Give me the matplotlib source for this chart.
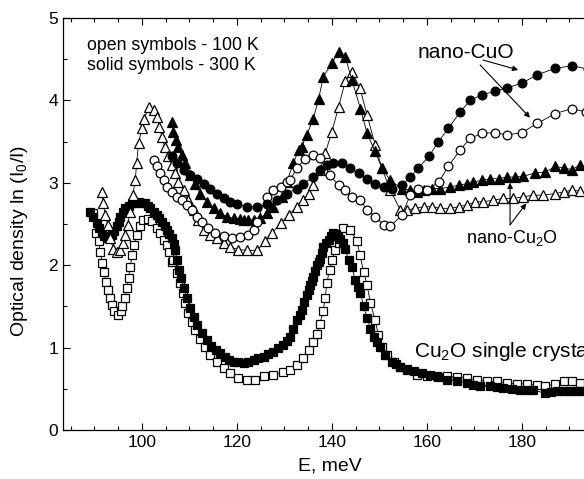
import numpy as np
import matplotlib
matplotlib.use('Agg')
from matplotlib import pyplot as plt

plt.rcParams['font.family'] = ['Liberation Sans', 'DejaVu Sans']
plt.rcParams['mathtext.fontset'] = 'custom'
plt.rcParams['mathtext.rm'] = 'Liberation Sans'
plt.rcParams['mathtext.it'] = 'Liberation Sans:italic'

# Cu2O single crystal, 100 K (open squares)
E_XTAL_100 = [89.7, 90.4, 90.9, 91.2, 91.7, 92.1, 92.4, 92.8, 93.3, 93.7, 94.2, 94.9, 95.6, 95.8,
              96.5, 96.8, 97.2, 97.5, 98.0, 98.4, 98.9, 99.6, 100.3, 101.2, 102.1, 103.2, 103.9,
              104.7, 105.3, 105.7, 106.3, 106.6, 107.4, 108.1, 108.6, 109.1, 109.8, 110.5, 111.2,
              112.3, 113.3, 114.4, 115.8, 117.2, 118.6, 120.3, 122.1, 123.9, 125.6, 127.7, 129.8,
              131.2, 132.6, 134.0, 135.1, 136.1, 136.8, 137.5, 138.1, 138.6, 138.9, 139.5, 140.0,
              140.7, 141.4, 142.4, 143.9, 145.3, 145.9, 146.7, 147.4, 148.1, 149.1, 149.8, 150.5,
              151.6, 153.0, 154.4, 155.8, 157.9, 160.0, 162.1, 164.2, 166.3, 168.4, 170.5, 172.6,
              174.7, 176.8, 178.9, 181.1, 183.2, 184.9, 187.0, 188.8, 190.5, 192.3]
OD_XTAL_100 = [2.63, 2.39, 2.29, 2.16, 2.03, 1.92, 1.80, 1.70, 1.60, 1.52, 1.44, 1.40, 1.44, 1.50,
               1.60, 1.72, 1.84, 1.98, 2.12, 2.25, 2.37, 2.47, 2.55, 2.56, 2.54, 2.45, 2.39,
               2.31, 2.25, 2.16, 2.04, 2.06, 1.90, 1.78, 1.66, 1.54, 1.42, 1.31, 1.21,
               1.11, 1.01, 0.91, 0.83, 0.75, 0.69, 0.63, 0.61, 0.61, 0.65, 0.67, 0.70,
               0.73, 0.79, 0.87, 0.97, 1.07, 1.17, 1.29, 1.44, 1.60, 1.78, 1.94, 2.06,
               2.18, 2.27, 2.45, 2.43, 2.29, 2.12, 1.92, 1.76, 1.54, 1.33, 1.15, 1.01,
               0.91, 0.83, 0.77, 0.73, 0.67, 0.66, 0.66, 0.65, 0.64, 0.63, 0.61, 0.59,
               0.59, 0.57, 0.56, 0.56, 0.55, 0.53, 0.56, 0.59, 0.59, 0.57]

# Cu2O single crystal, 300 K (solid squares)
E_XTAL_300 = [89.1, 89.8, 90.5, 91.0, 91.6, 92.1, 92.6, 93.2, 93.7, 94.2, 94.7, 95.1, 95.4, 96.0,
              96.5, 97.2, 97.9, 98.6, 99.3, 100.0, 100.7, 101.2, 101.7, 102.5, 103.2, 103.7, 104.2,
              104.8, 105.3, 105.8, 106.3, 106.7, 107.0, 107.4, 107.8, 108.3, 108.9, 109.5, 110.2,
              110.9, 111.7, 112.6, 113.7, 114.6, 115.5, 116.5, 117.4, 118.4, 119.3, 120.3, 121.4,
              122.4, 123.5, 124.5, 125.6, 126.6, 127.7, 128.7, 129.8, 130.5, 131.2, 131.9, 132.6,
              133.2, 133.7, 134.2, 134.7, 135.1, 135.4, 135.8, 136.1, 136.5, 136.8, 137.2, 137.5,
              137.9, 138.2, 138.7, 139.3, 139.8, 140.3, 140.8, 141.3, 141.8, 142.3, 142.8, 143.5,
              144.2, 144.9, 145.5, 146.0, 146.7, 147.4, 148.1, 148.8, 149.5, 150.2, 151.2, 152.6,
              153.5, 154.4, 155.8, 157.2, 158.9, 160.7, 162.4, 164.2, 166.3, 168.4, 169.8, 171.2,
              173.3, 174.7, 176.1, 177.8, 179.6, 181.0, 182.4, 184.9, 186.1, 187.4, 188.8, 190.2,
              191.4, 192.6]
OD_XTAL_300 = [2.65, 2.58, 2.51, 2.45, 2.39, 2.35, 2.33, 2.34, 2.37, 2.42, 2.47, 2.53, 2.59, 2.64,
               2.69, 2.72, 2.75, 2.76, 2.77, 2.76, 2.75, 2.72, 2.69, 2.65, 2.61, 2.57, 2.53,
               2.48, 2.43, 2.38, 2.33, 2.26, 2.18, 2.06, 1.94, 1.84, 1.72, 1.60, 1.48,
               1.37, 1.27, 1.18, 1.09, 1.02, 0.97, 0.93, 0.89, 0.85, 0.83, 0.82, 0.81,
               0.82, 0.85, 0.87, 0.89, 0.92, 0.95, 0.99, 1.03, 1.08, 1.13, 1.22, 1.33,
               1.40, 1.46, 1.55, 1.64, 1.70, 1.76, 1.81, 1.86, 1.93, 2.00, 2.04, 2.08,
               2.15, 2.22, 2.27, 2.31, 2.35, 2.39, 2.38, 2.36, 2.32, 2.27, 2.20, 2.06,
               1.98, 1.82, 1.74, 1.66, 1.50, 1.36, 1.23, 1.13, 1.07, 1.01, 0.91, 0.83,
               0.80, 0.77, 0.74, 0.71, 0.69, 0.67, 0.64, 0.61, 0.59, 0.57, 0.55, 0.53,
               0.53, 0.52, 0.51, 0.50, 0.49, 0.49, 0.48, 0.45, 0.46, 0.47, 0.47, 0.47,
               0.47, 0.47]

# nano-Cu2O, 100 K (open triangles)
E_NCU2O_100 = [91.6, 91.8, 92.3, 92.8, 93.3, 94.0, 94.7, 95.4, 96.0, 96.5, 97.0, 97.5, 98.1, 98.6,
               98.9, 99.3, 100.0, 100.5, 101.5, 102.5, 103.2, 103.7, 104.2, 104.8, 105.6, 106.3,
               107.0, 107.7, 108.8, 109.8, 110.9, 111.9, 113.0, 114.4, 115.8, 117.2, 118.6,
               120.3, 122.1, 124.2, 126.0, 127.4, 129.2, 130.9, 132.6, 134.0, 135.1, 136.1,
               137.4, 138.6, 140.0, 141.4, 142.8, 144.2, 145.9, 147.4, 149.1, 150.5, 152.3,
               154.4, 155.8, 157.5, 159.3, 161.1, 162.8, 164.9, 166.7, 168.4, 170.2, 171.9,
               174.0, 176.1, 178.2, 180.3, 182.4, 184.5, 187.0, 188.8, 190.5, 192.3]
OD_NCU2O_100 = [2.89, 2.76, 2.61, 2.49, 2.33, 2.20, 2.16, 2.18, 2.27, 2.37, 2.49, 2.65, 2.85, 3.03,
                3.24, 3.48, 3.66, 3.78, 3.92, 3.88, 3.80, 3.68, 3.56, 3.44, 3.32, 3.22,
                3.12, 3.01, 2.91, 2.79, 2.67, 2.55, 2.43, 2.37, 2.33, 2.27, 2.22,
                2.19, 2.18, 2.18, 2.29, 2.39, 2.51, 2.61, 2.71, 2.79, 2.87, 2.97,
                3.15, 3.36, 3.62, 3.92, 4.23, 4.35, 4.15, 3.82, 3.46, 3.18, 2.91,
                2.67, 2.67, 2.69, 2.71, 2.71, 2.69, 2.69, 2.71, 2.73, 2.77, 2.77,
                2.79, 2.81, 2.81, 2.83, 2.85, 2.85, 2.87, 2.89, 2.91, 2.90]

# nano-Cu2O, 300 K (solid triangles)
E_NCU2O_300 = [106.3, 106.6, 107.2, 107.7, 108.4, 109.1, 110.2, 111.2, 112.3, 113.7, 115.1, 116.5,
               117.9, 119.3, 120.7, 121.4, 122.4, 123.5, 124.9, 126.3, 127.7, 129.5, 130.5,
               131.9, 133.0, 133.6, 134.7, 136.1, 137.2, 138.2, 140.0, 141.4, 142.8, 144.2,
               146.0, 147.4, 149.1, 150.5, 152.3, 154.7, 156.5, 157.9, 159.3, 161.1, 162.8,
               164.9, 166.7, 168.4, 169.8, 171.6, 173.3, 175.1, 176.8, 178.6, 180.3, 182.8,
               184.9, 187.0, 188.8, 190.5, 192.3]
OD_NCU2O_300 = [3.74, 3.62, 3.52, 3.44, 3.34, 3.24, 3.09, 2.99, 2.87, 2.77, 2.69, 2.63,
                2.59, 2.57, 2.56, 2.55, 2.55, 2.55, 2.57, 2.63, 2.71, 2.83, 3.01,
                3.24, 3.40, 3.44, 3.58, 3.78, 4.02, 4.29, 4.45, 4.59, 4.53, 4.25,
                3.90, 3.60, 3.38, 3.18, 3.03, 2.93, 2.91, 2.89, 2.91, 2.93, 2.93,
                2.95, 2.97, 2.99, 3.01, 3.03, 3.05, 3.05, 3.07, 3.07, 3.08, 3.12,
                3.13, 3.20, 3.18, 3.16, 3.22]

# nano-CuO, 100 K (open circles)
E_NCUO_100 = [102.5, 103.2, 103.9, 104.6, 105.3, 106.3, 107.4, 108.4, 109.5, 110.5, 111.6, 112.6,
              114.0, 115.4, 117.2, 118.9, 120.7, 122.4, 123.5, 124.2, 126.3, 127.7, 129.2,
              130.5, 131.2, 132.6, 134.4, 136.1, 137.5, 139.6, 141.4, 142.8, 144.2, 146.0,
              147.4, 149.1, 150.9, 152.3, 154.7, 156.5, 158.2, 160.0, 162.5, 164.5, 167.0,
              169.1, 171.6, 174.4, 176.8, 180.0, 183.2, 187.0, 190.5, 193.4]
OD_NCUO_100 = [3.28, 3.20, 3.12, 3.03, 2.95, 2.89, 2.83, 2.79, 2.73, 2.67, 2.59, 2.53,
               2.45, 2.39, 2.35, 2.33, 2.34, 2.37, 2.43, 2.53, 2.83, 2.91, 2.95,
               3.01, 3.03, 3.18, 3.29, 3.34, 3.30, 3.09, 2.97, 2.91, 2.83, 2.79,
               2.67, 2.59, 2.49, 2.47, 2.61, 2.85, 2.93, 2.91, 3.01, 3.20, 3.40,
               3.54, 3.60, 3.61, 3.58, 3.61, 3.72, 3.84, 3.90, 3.86]

# nano-CuO, 300 K (solid circles)
E_NCUO_300 = [106.3, 107.4, 108.8, 110.2, 111.6, 113.0, 114.4, 115.8, 117.2, 118.6, 120.0, 122.1,
              124.2, 126.3, 128.4, 130.5, 132.6, 134.0, 136.1, 137.5, 138.9, 140.3, 142.1,
              143.9, 145.6, 147.4, 149.1, 150.9, 152.6, 154.7, 156.5, 158.2, 160.4, 162.3,
              164.5, 167.0, 169.1, 171.6, 174.4, 176.8, 180.0, 183.2, 187.0, 190.5, 194.0]
OD_NCUO_300 = [3.32, 3.24, 3.16, 3.09, 3.05, 2.99, 2.93, 2.87, 2.81, 2.77, 2.74, 2.71,
               2.71, 2.74, 2.79, 2.87, 2.93, 2.99, 3.07, 3.16, 3.22, 3.24, 3.24,
               3.18, 3.12, 3.05, 2.99, 2.95, 2.93, 2.97, 3.07, 3.18, 3.32, 3.49,
               3.66, 3.86, 4.00, 4.07, 4.11, 4.15, 4.21, 4.31, 4.39, 4.42, 4.38]

XLIM = (83.4, 195.8)
YLIM = (0, 5)
XTICKS = [100, 120, 140, 160, 180]
YTICKS = [0, 1, 2, 3, 4, 5]

fig = plt.figure(figsize=(5.84, 4.79), dpi=100)
ax = fig.add_axes([0.1079, 0.1023, 0.9144, 0.8601])

line_kw = dict(color='black', lw=0.6, markeredgecolor='black', markeredgewidth=0.9)

ax.plot(E_XTAL_100, OD_XTAL_100, '-s', ms=5.4, mfc='white', **line_kw)
ax.plot(E_XTAL_300, OD_XTAL_300, '-s', ms=5.4, mfc='black', **line_kw)
ax.plot(E_NCU2O_100, OD_NCU2O_100, '-^', ms=7, mfc='white', **line_kw)
ax.plot(E_NCU2O_300, OD_NCU2O_300, '-^', ms=7, mfc='black', **line_kw)
ax.plot(E_NCUO_100, OD_NCUO_100, '-o', ms=6.3, mfc='white', **line_kw)
ax.plot(E_NCUO_300, OD_NCUO_300, '-o', ms=6.3, mfc='black', **line_kw)

ax.set_xlim(XLIM)
ax.set_ylim(YLIM)
ax.set_xticks(XTICKS)
ax.set_yticks(YTICKS)
ax.set_xticks(np.arange(85, 196, 5), minor=True)
ax.set_yticks(np.arange(0.5, 5, 1.0), minor=True)
ax.tick_params(which='both', direction='in', top=True, right=False, labelsize=12.5, width=0.8)
ax.tick_params(which='major', length=5)
ax.tick_params(which='minor', length=3)
for side in ('left', 'bottom', 'top'):
    ax.spines[side].set_linewidth(0.9)
ax.spines['right'].set_visible(False)

ax.set_xlabel('E, meV', fontsize=14)
ax.set_ylabel(r'Optical density ln (I$_\mathrm{0}$/I)', fontsize=14)
ax.xaxis.set_label_coords(0.5, -0.066)
ax.yaxis.set_label_coords(-0.062, 0.46)

ax.text(88.5, 4.61, 'open symbols - 100 K', fontsize=12.8)
ax.text(88.5, 4.37, 'solid symbols - 300 K', fontsize=12.8)

ax.text(158.1, 4.52, 'nano-CuO', fontsize=15)
arrow_kw = dict(arrowstyle='-|>', color='black', lw=0.8, mutation_scale=8, shrinkA=0, shrinkB=0)
ax.annotate('', xy=(179.2, 4.37), xytext=(171.8, 4.49), arrowprops=arrow_kw)
ax.annotate('', xy=(181.7, 3.79), xytext=(171.2, 4.43), arrowprops=arrow_kw)

ax.text(168.2, 2.27, r'nano-Cu$_\mathrm{2}$O', fontsize=13)
ax.annotate('', xy=(177.5, 3.0), xytext=(177.5, 2.49), arrowprops=arrow_kw)
ax.annotate('', xy=(180.9, 2.75), xytext=(177.5, 2.49), arrowprops=arrow_kw)

# the reference picture is cropped through this label as well
ax.text(157.3, 0.89, r'Cu$_\mathrm{2}$O single crystal', fontsize=15)

fig.savefig('out.png', dpi=100)
